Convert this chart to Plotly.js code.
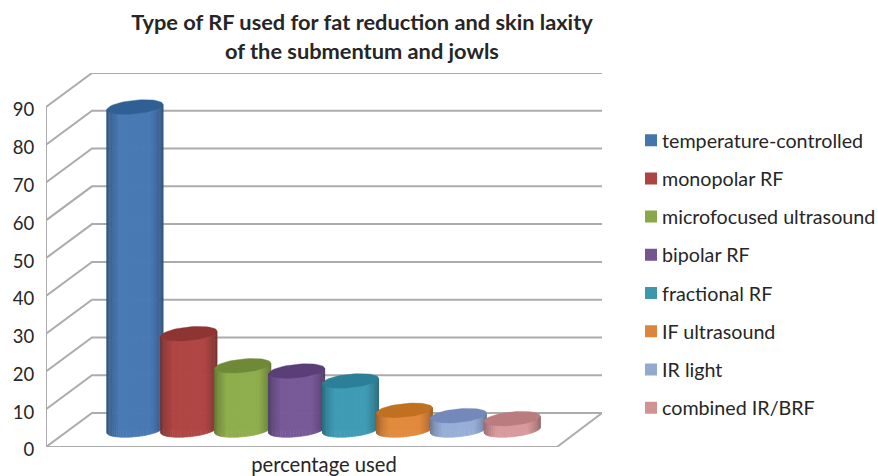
<!DOCTYPE html>
<html><head><meta charset="utf-8">
<script src="https://cdn.plot.ly/plotly-3.0.1.min.js"></script>
<style>html,body{margin:0;padding:0;background:#fff}</style></head>
<body><div id="chart" style="width:878px;height:476px"></div>
<script>
const categories = ["temperature-controlled","monopolar RF","microfocused ultrasound","bipolar RF","fractional RF","IF ultrasound","IR light","combined IR/BRF"];
const values = [85.5,25.5,17,15.6,13,5.2,3.8,3];
const barColors = ["#4a7ab4","#b04745","#8fae4e","#785a98","#409cb5","#e28a3e","#98afd8","#d89a9c"];
const capColors = ["#2f5f93","#8e3533","#6e8a36","#5a3e77","#2b7f97","#c0701f","#7489ba","#bb7c7f"];
const legendColors = ["#4674ab","#ab4442","#8aa84a","#73558f","#3f97ad","#dd853c","#93a9cf","#d19392"];
const yTicks = [0,10,20,30,40,50,60,70,80,90];
const positions = [1,2,3,4,5,6,7,8];

const xMin=-0.65, xMax=9.665, yMax=99;
const depthX=0.853, depthY=9;      // wall depth in axis units
const floorEnd=8.83;               // front edge of floor
const base=4.5, halfW=0.52, capB=1.8, tilt=0.7, STRIPS=30;

function shade(hex,f){
  const n=parseInt(hex.slice(1),16);
  const c=[n>>16,(n>>8)&255,n&255].map(v=>Math.round(f<1?v*f:v+(255-v)*(f-1)));
  return `rgb(${c.join(',')})`;
}
const data=[];
categories.forEach((name,i)=>{
  data.push({type:'bar',x:[positions[i]],y:[values[i]],base:[base],width:[0.9],name,
    marker:{color:legendColors[i],line:{width:0}},legendgroup:'g'+i,showlegend:true,hoverinfo:'x+y+name'});
});
const wallX=[],wallY=[];
yTicks.forEach(t=>{ wallX.push(xMin,xMin+depthX,xMax,null); wallY.push(t,t+depthY,t+depthY,null); });
const gridStyle={color:'#acacac',width:2};
data.push({type:'scatter',mode:'lines',x:wallX,y:wallY,line:gridStyle,showlegend:false,hoverinfo:'skip',cliponaxis:false});
data.push({type:'scatter',mode:'lines',x:[xMin,xMin,floorEnd,xMax],y:[yTicks[9],0,0,depthY],line:gridStyle,showlegend:false,hoverinfo:'skip',cliponaxis:false});
categories.forEach((name,i)=>{
  const cx=positions[i], v=values[i];
  const low=(u)=>tilt*u-capB*Math.sqrt(Math.max(0,1-u*u));
  for(let s=0;s<STRIPS;s++){
    const u0=-Math.cos(Math.PI*s/STRIPS), u1=-Math.cos(Math.PI*(s+1)/STRIPS);
    const m=(u0+u1)/2;
    const f=Math.min(1,0.68+0.42*Math.pow(1-m*m,0.8));
    const col=shade(barColors[i],f);
    const xs=[cx+u0*halfW,cx+u1*halfW,cx+u1*halfW,cx+u0*halfW,cx+u0*halfW];
    const ys=[base+low(u0),base+low(u1),base+v+tilt*u1,base+v+tilt*u0,base+low(u0)];
    data.push({type:'scatter',mode:'lines',x:xs,y:ys,fill:'toself',fillcolor:col,
      line:{width:0.6,color:col},showlegend:false,hoverinfo:'skip',cliponaxis:false});
  }
  const cxs=[],cys=[];
  for(let a=0;a<=48;a++){
    const t=a/48*2*Math.PI, u=Math.cos(t);
    cxs.push(cx+u*halfW); cys.push(base+v+tilt*u+capB*Math.sin(t));
  }
  data.push({type:'scatter',mode:'lines',x:cxs,y:cys,fill:'toself',fillcolor:capColors[i],
    line:{width:0.4,color:capColors[i]},showlegend:false,hoverinfo:'skip',cliponaxis:false});
});
const layout={
  width:878,height:476,paper_bgcolor:'#fff',plot_bgcolor:'#fff',
  margin:{l:46,r:276,t:73,b:29,autoexpand:false},
  font:{family:'Lato, sans-serif',color:'#262626'},
  title:{text:'<b>Type of RF used for fat reduction and skin laxity<br>of the submentum and jowls</b>',
    x:362/878,xanchor:'center',xref:'container',y:0.936,yanchor:'top',font:{family:'Lato, sans-serif',size:21.8,color:'#262626'}},
  xaxis:{range:[xMin,xMax],showgrid:false,zeroline:false,showline:false,showticklabels:false,ticks:'',
    title:{text:'percentage used',font:{size:20.2,color:'#262626'},standoff:11}},
  yaxis:{range:[0,yMax],tickvals:yTicks,ticktext:yTicks.map(String),showgrid:false,zeroline:false,showline:false,
    ticks:'outside',ticklen:7,tickcolor:'rgba(0,0,0,0)',tickfont:{size:18.5,color:'#262626'},ticklabelshift:3},
  barmode:'overlay',
  showlegend:true,
  legend:{x:1.036,xanchor:'left',y:0.872,yanchor:'top',tracegroupgap:9.6,font:{size:19.7,color:'#262626'},itemclick:false,itemdoubleclick:false,bgcolor:'rgba(0,0,0,0)'}
};
Plotly.newPlot('chart',data,layout,{displayModeBar:false,responsive:false}).then(gd=>{
  gd.querySelectorAll('.legend .legendsymbols').forEach(n=>n.setAttribute('transform','translate(9,0)'));
});
</script></body></html>
